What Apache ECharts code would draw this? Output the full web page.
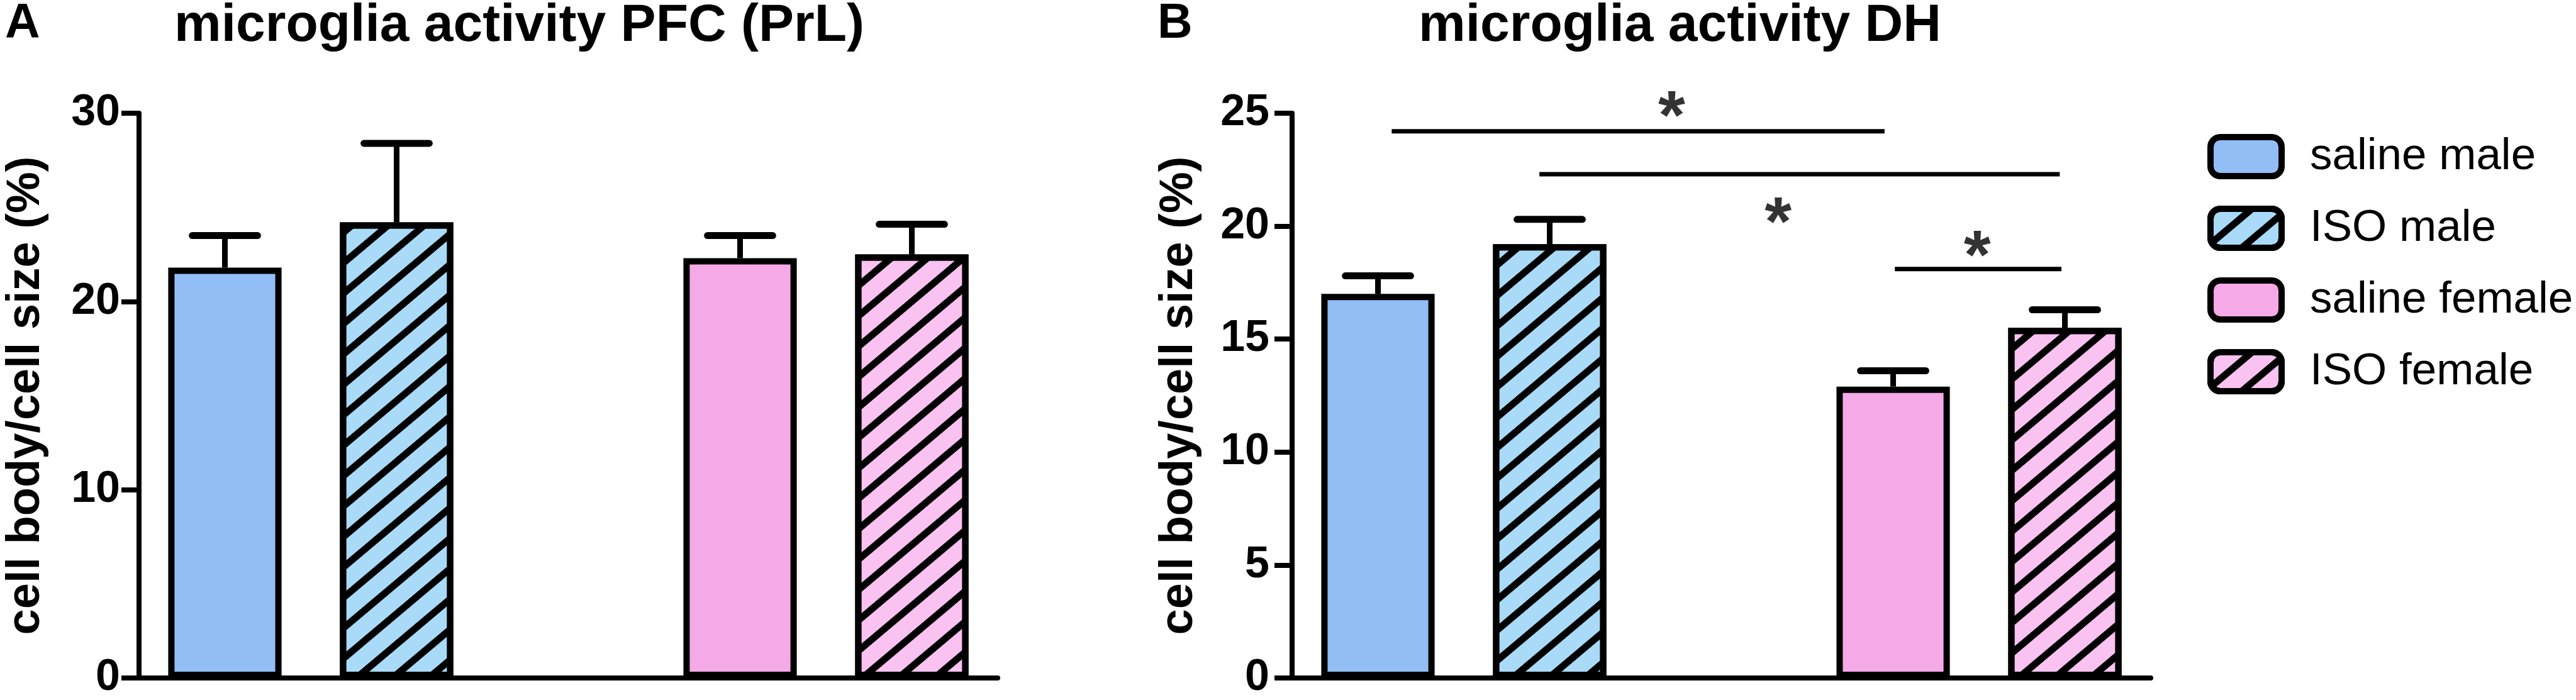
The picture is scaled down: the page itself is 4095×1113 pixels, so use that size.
<!DOCTYPE html>
<html><head><meta charset="utf-8">
<script src="https://cdn.jsdelivr.net/npm/echarts@6/dist/echarts.min.js"></script>
<style>html,body{margin:0;padding:0;background:#fff}#c{width:4095px;height:1113px}</style>
</head><body><div id="c"></div>
<script>
// ---- data ----
const categories = ['saline male', 'ISO male', '', 'saline female', 'ISO female'];
const groups = ['saline male', 'ISO male', 'saline female', 'ISO female'];
const slotIndex = [0, 1, 3, 4];
const pfcMean = [21.8, 24.2, 22.3, 22.5];
const pfcSem = [1.7, 4.2, 1.2, 1.6];
const dhMean = [17.0, 19.2, 12.9, 15.5];
const dhSem = [0.8, 1.1, 0.7, 0.8];
const pfcTicks = [0, 10, 20, 30];
const dhTicks = [0, 5, 10, 15, 20, 25];
const sigLines = [[0.08, 2.95, 24.2], [0.94, 3.97, 22.3], [3.01, 3.98, 18.1]];
const sigStars = [[1.71, 25.6], [2.33, 20.9], [3.49, 19.4]];
const titles = ['microglia activity PFC (PrL)', 'microglia activity DH'];
const panelLetters = ['A', 'B'];
const yName = 'cell body/cell size (%)';

// ---- styles ----
const FONT = 'Liberation Sans, Arial, sans-serif';
const fills = ['#93bdf5', '#a9dbf8', '#f5a9e7', '#f9c2f1'];
const hatched = [false, true, false, true];
const hatch = {
  symbol: 'rect', symbolSize: 1, symbolKeepAspect: false, color: '#000',
  dashArrayX: [1, 0], dashArrayY: [11, 26], rotation: -0.7
};

function barSeries(g, means) {
  return groups.map((name, i) => {
    const itemStyle = { color: fills[i], borderColor: '#000', borderWidth: 10 };
    if (hatched[i]) itemStyle.decal = hatch;
    return {
      type: 'bar', name, xAxisIndex: g, yAxisIndex: g,
      data: categories.map((c, k) => k === slotIndex[i] ? means[i] : '-'),
      barWidth: '66%', barGap: '-100%',
      itemStyle,
      emphasis: { disabled: true }, z: 3
    };
  });
}
function errSeries(g, means, sems) {
  return {
    type: 'custom', xAxisIndex: g, yAxisIndex: g, z: 2, silent: true,
    data: slotIndex.map((s, i) => [s, means[i], sems[i]]),
    encode: { x: 0, y: 1 },
    renderItem: (params, api) => {
      const x = api.value(0), m = api.value(1), e = api.value(2);
      const p0 = api.coord([x, m]);
      const p1 = api.coord([x, m + e]);
      const bw = api.size([1, 0])[0];
      const hw = bw * 0.19;
      return {
        type: 'group', children: [
          { type: 'line', shape: { x1: p0[0], y1: p0[1], x2: p1[0], y2: p1[1] }, style: { stroke: '#000', lineWidth: 9 } },
          { type: 'line', shape: { x1: p1[0] - hw, y1: p1[1], x2: p1[0] + hw, y2: p1[1] }, style: { stroke: '#000', lineWidth: 11, lineCap: 'round' } }
        ]
      };
    }
  };
}
function yAxisDef(g, ticks, margin) {
  return {
    type: 'value', gridIndex: g, min: ticks[0], max: ticks[ticks.length - 1],
    interval: ticks[1] - ticks[0],
    axisLine: { show: true, onZero: false, lineStyle: { color: '#000', width: 8 } },
    axisTick: { show: true, length: 28, lineStyle: { color: '#000', width: 8 } },
    axisLabel: { fontSize: 70, fontWeight: 'bold', color: '#000', margin, fontFamily: FONT },
    splitLine: { show: false },
    name: yName, nameLocation: 'middle', nameGap: 142,
    nameTextStyle: { fontSize: 74, fontWeight: 'bold', color: '#000', fontFamily: FONT }
  };
}
function xAxisDef(g) {
  return {
    type: 'category', gridIndex: g, data: categories,
    axisLine: { show: true, onZero: false, lineStyle: { color: '#000', width: 8 } },
    axisTick: { show: false }, axisLabel: { show: false }, splitLine: { show: false }
  };
}

const series = [
  ...barSeries(0, pfcMean), errSeries(0, pfcMean, pfcSem),
  ...barSeries(1, dhMean), errSeries(1, dhMean, dhSem),
  ...sigLines.map(l => ({
    type: 'line', xAxisIndex: 2, yAxisIndex: 1, silent: true, symbol: 'none', clip: false,
    data: [[l[0], l[2]], [l[1], l[2]]],
    lineStyle: { color: '#000', width: 7 }, z: 4
  })),
  {
    type: 'scatter', xAxisIndex: 2, yAxisIndex: 1, silent: true, symbolSize: 1, clip: false,
    itemStyle: { color: 'rgba(0,0,0,0)' },
    data: sigStars,
    label: { show: true, formatter: '*', position: 'inside', fontSize: 110, fontWeight: 'bold',
             color: '#000', fontFamily: FONT, offset: [0, 31] }
  }
];

const chart = echarts.init(document.getElementById('c'));
chart.setOption({
  backgroundColor: '#fff',
  animation: false,
  textStyle: { fontFamily: FONT },
  title: [
    { text: panelLetters[0], left: 8, top: 0, padding: 0, textStyle: { fontSize: 77, fontWeight: 'bold', color: '#000', fontFamily: FONT } },
    { text: panelLetters[1], left: 1840, top: 0, padding: 0, textStyle: { fontSize: 77, fontWeight: 'bold', color: '#000', fontFamily: FONT } },
    { text: titles[0], left: 277, top: 0, padding: 0, textStyle: { fontSize: 84, fontWeight: 'bold', color: '#000', fontFamily: FONT } },
    { text: titles[1], left: 2255, top: 0, padding: 0, textStyle: { fontSize: 84, fontWeight: 'bold', color: '#000', fontFamily: FONT } }
  ],
  legend: {
    data: groups, orient: 'vertical', left: 3504, top: 208,
    itemWidth: 113, itemHeight: 62, itemGap: 42, icon: 'roundRect',
    selectedMode: false,
    textStyle: { fontSize: 71, color: '#000', fontFamily: FONT, padding: [0, 0, 0, 40] },
    itemStyle: { borderColor: '#000', borderWidth: 10 }
  },
  grid: [
    { left: 221, right: 2509, top: 180, bottom: 32 },
    { left: 2054, right: 676, top: 180, bottom: 32 }
  ],
  xAxis: [
    xAxisDef(0), xAxisDef(1),
    { type: 'value', gridIndex: 1, min: -0.5, max: 4.5, show: false }
  ],
  yAxis: [yAxisDef(0, pfcTicks, 30), yAxisDef(1, dhTicks, 36)],
  series
});
</script></body></html>
